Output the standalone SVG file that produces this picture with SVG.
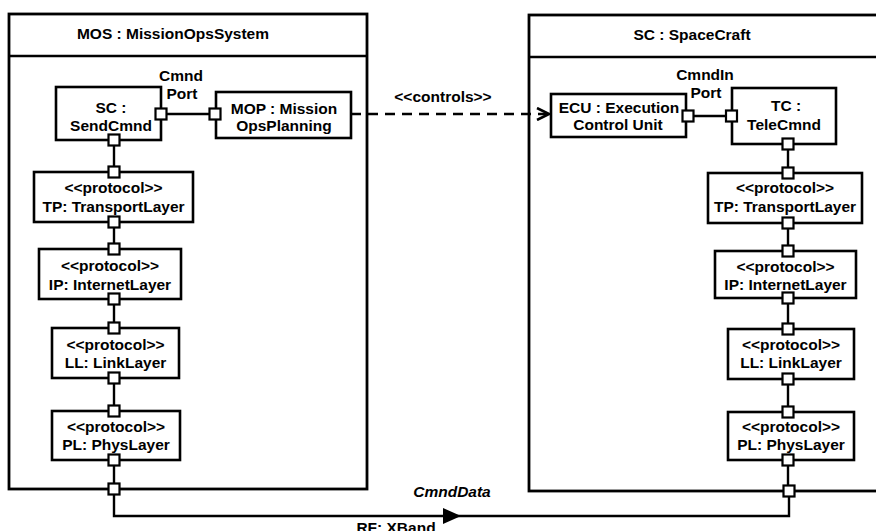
<svg xmlns="http://www.w3.org/2000/svg" width="876" height="531" viewBox="0 0 876 531">
<style>
text{font-family:"Liberation Sans",Arial,sans-serif;font-size:15.5px;font-weight:bold;fill:#000;text-anchor:middle}
.box{fill:#fff;stroke:#000;stroke-width:2.6}
.cont{fill:#fff;stroke:#000;stroke-width:2.8}
.port{fill:#fff;stroke:#000;stroke-width:2.2}
.ln{fill:none;stroke:#000;stroke-width:2.4}
.dash{fill:none;stroke:#000;stroke-width:2.6;stroke-dasharray:10 7}
.it{font-style:italic}
</style>
<defs>
<marker id="open" viewBox="0 0 14 14" refX="13" refY="7" markerWidth="14" markerHeight="14" markerUnits="userSpaceOnUse" orient="auto">
<path d="M1,1 L13,7 L1,13" fill="none" stroke="#000" stroke-width="2.6"/>
</marker>
</defs>
<rect width="876" height="531" fill="#fff"/>

<g id="MOS">
<rect class="cont" x="9" y="14" width="358" height="475"/>
<line class="ln" x1="9" y1="56" x2="367" y2="56" stroke-width="2.8"/>
<text x="173" y="39">MOS : MissionOpsSystem</text>
</g>

<g id="SCraft">
<rect class="cont" x="529" y="15" width="360" height="476"/>
<line class="ln" x1="529" y1="57" x2="889" y2="57" stroke-width="2.8"/>
<text x="692" y="40">SC : SpaceCraft</text>
</g>

<g id="connectors">
<line class="ln" x1="161" y1="114" x2="215" y2="114"/>
<path class="dash" d="M351,114 H549" marker-end="url(#open)"/>
<text x="443" y="102">&lt;&lt;controls&gt;&gt;</text>
<line class="ln" x1="688" y1="116" x2="731" y2="116"/>
<line class="ln" x1="114" y1="140" x2="114" y2="172"/>
<line class="ln" x1="114" y1="222" x2="114" y2="249"/>
<line class="ln" x1="114" y1="299" x2="114" y2="328"/>
<line class="ln" x1="114" y1="378" x2="114" y2="411"/>
<line class="ln" x1="114" y1="460" x2="114" y2="489"/>
<line class="ln" x1="788" y1="144" x2="788" y2="173"/>
<line class="ln" x1="788" y1="223" x2="788" y2="251"/>
<line class="ln" x1="788" y1="298" x2="788" y2="329"/>
<line class="ln" x1="788" y1="379" x2="788" y2="412"/>
<line class="ln" x1="788" y1="460" x2="788" y2="491"/>
<path class="ln" d="M114,489 V516 H789 V491"/>
<path d="M443,508 L461,516 L443,524 Z" fill="#000"/>
<text class="it" x="452" y="497">CmndData</text>
<text x="396" y="533">RF: XBand</text>
</g>

<g id="SendCmnd">
<rect class="box" x="56" y="87" width="105" height="53"/>
<text x="111" y="113">SC :</text>
<text x="111" y="131">SendCmnd</text>
<rect class="port" x="155.5" y="108.5" width="11" height="11"/>
<rect class="port" x="108.5" y="134.5" width="11" height="11"/>
<text x="181" y="81">Cmnd</text>
<text x="182" y="99">Port</text>
</g>

<g id="MOP">
<rect class="box" x="216" y="92" width="135" height="46"/>
<text x="284" y="114">MOP : Mission</text>
<text x="284" y="131">OpsPlanning</text>
<rect class="port" x="209.5" y="108.5" width="11" height="11"/>
</g>

<g id="TP_L">
<rect class="box" x="34" y="172" width="159" height="50"/>
<text x="113.5" y="193">&lt;&lt;protocol&gt;&gt;</text>
<text x="113.5" y="212">TP: TransportLayer</text>
<rect class="port" x="108.5" y="166.5" width="11" height="11"/>
<rect class="port" x="108.5" y="216.5" width="11" height="11"/>
</g>

<g id="IP_L">
<rect class="box" x="39" y="249" width="142" height="50"/>
<text x="110" y="271">&lt;&lt;protocol&gt;&gt;</text>
<text x="110" y="290">IP: InternetLayer</text>
<rect class="port" x="108.5" y="243.5" width="11" height="11"/>
<rect class="port" x="108.5" y="293.5" width="11" height="11"/>
</g>

<g id="LL_L">
<rect class="box" x="52" y="328" width="127" height="50"/>
<text x="115.5" y="350">&lt;&lt;protocol&gt;&gt;</text>
<text x="115.5" y="368">LL: LinkLayer</text>
<rect class="port" x="108.5" y="322.5" width="11" height="11"/>
<rect class="port" x="108.5" y="372.5" width="11" height="11"/>
</g>

<g id="PL_L">
<rect class="box" x="52" y="411" width="128" height="49"/>
<text x="116" y="432">&lt;&lt;protocol&gt;&gt;</text>
<text x="116" y="450">PL: PhysLayer</text>
<rect class="port" x="108.5" y="405.5" width="11" height="11"/>
<rect class="port" x="108.5" y="454.5" width="11" height="11"/>
</g>

<g id="Port_L">
<rect class="port" x="108.5" y="483.5" width="11" height="11"/>
</g>

<g id="ECU">
<rect class="box" x="551" y="94" width="135" height="43"/>
<text x="619" y="113">ECU : Execution</text>
<text x="618" y="130">Control Unit</text>
<rect class="port" x="682.5" y="110.5" width="11" height="11"/>
</g>

<g id="TC">
<rect class="box" x="732" y="88" width="104" height="56"/>
<text x="786" y="111">TC :</text>
<text x="784" y="130">TeleCmnd</text>
<rect class="port" x="726" y="110.5" width="11" height="11"/>
<rect class="port" x="782.5" y="138.5" width="11" height="11"/>
<text x="705" y="80">CmndIn</text>
<text x="706" y="98">Port</text>
</g>

<g id="TP_R">
<rect class="box" x="708" y="173" width="154" height="50"/>
<text x="785" y="193">&lt;&lt;protocol&gt;&gt;</text>
<text x="785" y="212">TP: TransportLayer</text>
<rect class="port" x="782.5" y="167.5" width="11" height="11"/>
<rect class="port" x="782.5" y="217.5" width="11" height="11"/>
</g>

<g id="IP_R">
<rect class="box" x="715" y="251" width="141" height="47"/>
<text x="785.5" y="272">&lt;&lt;protocol&gt;&gt;</text>
<text x="785.5" y="290">IP: InternetLayer</text>
<rect class="port" x="782.5" y="245.5" width="11" height="11"/>
<rect class="port" x="782.5" y="292.5" width="11" height="11"/>
</g>

<g id="LL_R">
<rect class="box" x="728" y="329" width="126" height="50"/>
<text x="791" y="350">&lt;&lt;protocol&gt;&gt;</text>
<text x="791" y="368">LL: LinkLayer</text>
<rect class="port" x="782.5" y="323.5" width="11" height="11"/>
<rect class="port" x="782.5" y="373.5" width="11" height="11"/>
</g>

<g id="PL_R">
<rect class="box" x="728" y="412" width="126" height="48"/>
<text x="791" y="432">&lt;&lt;protocol&gt;&gt;</text>
<text x="791" y="450">PL: PhysLayer</text>
<rect class="port" x="782.5" y="406.5" width="11" height="11"/>
<rect class="port" x="782.5" y="454.5" width="11" height="11"/>
</g>

<g id="Port_R">
<rect class="port" x="783.5" y="485.5" width="11" height="11"/>
</g>
</svg>
